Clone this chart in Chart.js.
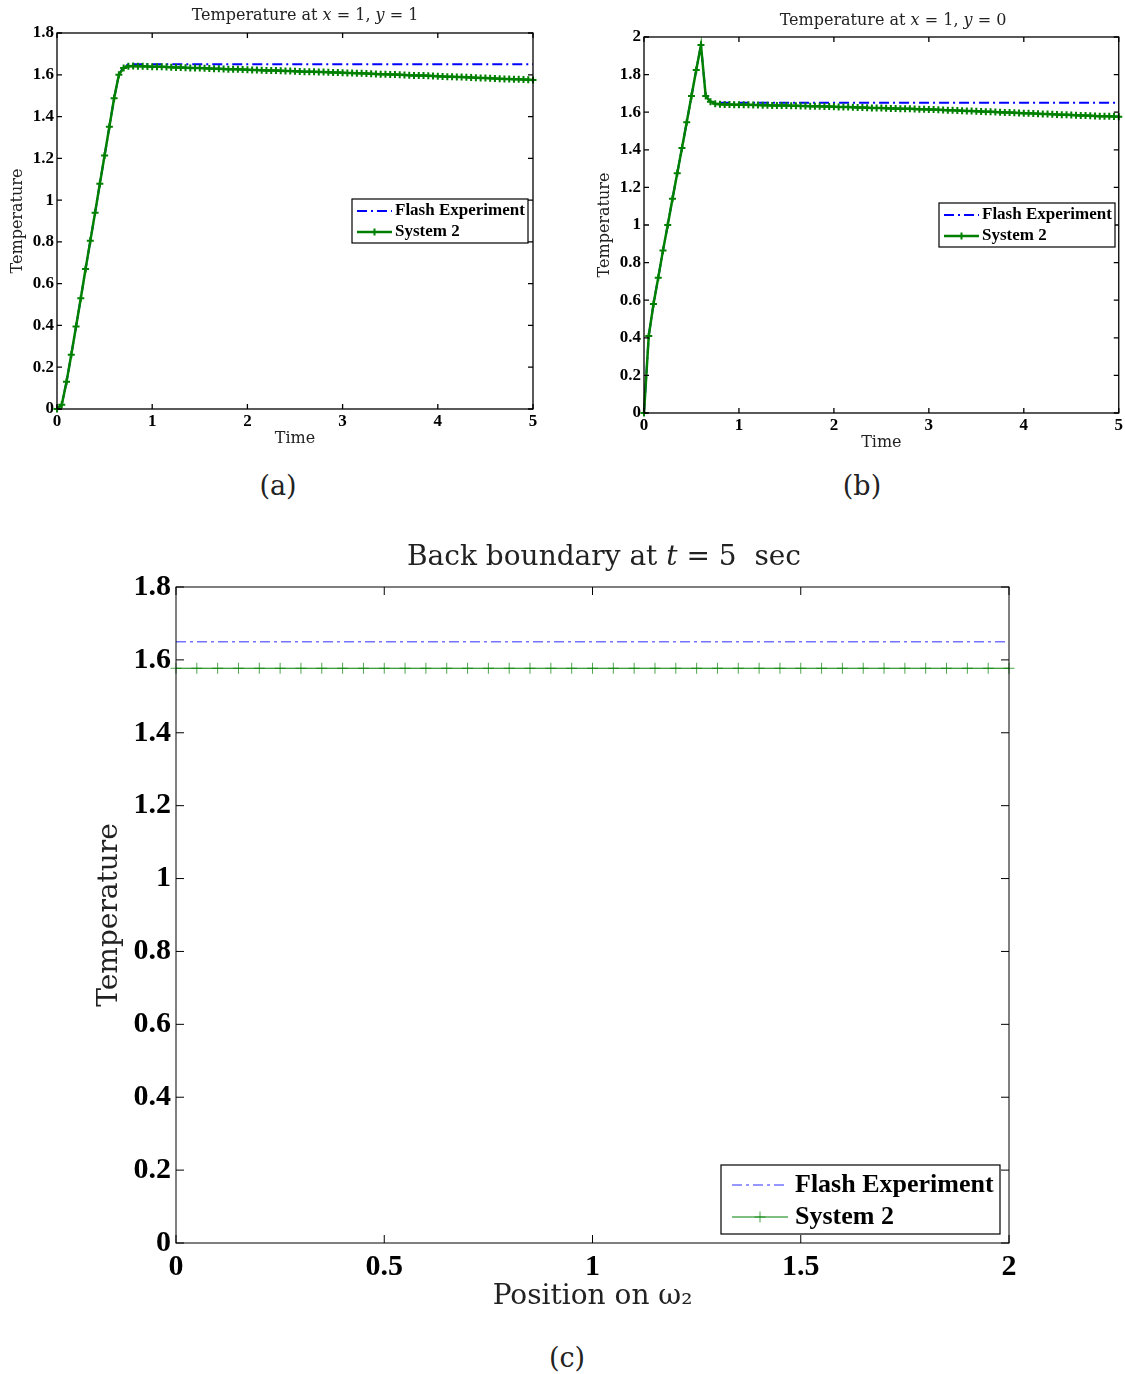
<!DOCTYPE html>
<html>
<head>
<meta charset="utf-8">
<script src="https://cdn.jsdelivr.net/npm/chart.js@4.4.1/dist/chart.umd.min.js"></script>
<style>
  body { margin: 0; background: #fff; }
  #page { position: relative; width: 1125px; height: 1374px; overflow: hidden; background: #fff; }
  canvas { position: absolute; }
  .lbl { position: absolute; transform: translate(-50%, -50%); white-space: nowrap; font-family: 'DejaVu Serif', serif; color: #222; }
</style>
</head>
<body>
<div id="page">
  <canvas id="chartA" width="560" height="460" style="left:0;top:0"></canvas>
  <canvas id="chartB" width="538" height="460" style="left:587px;top:0"></canvas>
  <canvas id="chartC" width="1125" height="800" style="left:0;top:530px"></canvas>

  <div class="lbl" style="left:305px;top:14px;font-size:16px">Temperature at <i>x</i> = 1, <i>y</i> = 1</div>
  <div class="lbl" style="left:893px;top:19px;font-size:16px">Temperature at <i>x</i> = 1, <i>y</i> = 0</div>
  <div class="lbl" style="left:604px;top:555px;font-size:28px">Back boundary at <i>t</i> = 5 &nbsp;sec</div>
  <div class="lbl" style="left:278px;top:485px;font-size:27px">(a)</div>
  <div class="lbl" style="left:862px;top:485px;font-size:27px">(b)</div>
  <div class="lbl" style="left:567px;top:1357px;font-size:27px">(c)</div>
</div>
<script>
// time grid of the simulations (sec)
const times = [
  0, 0.05, 0.1, 0.15, 0.2, 0.25, 0.3, 0.35, 0.4, 0.45,
  0.5, 0.55, 0.6, 0.65, 0.7, 0.75, 0.8, 0.85, 0.9, 0.95,
  1, 1.05, 1.1, 1.15, 1.2, 1.25, 1.3, 1.35, 1.4, 1.45,
  1.5, 1.55, 1.6, 1.65, 1.7, 1.75, 1.8, 1.85, 1.9, 1.95,
  2, 2.05, 2.1, 2.15, 2.2, 2.25, 2.3, 2.35, 2.4, 2.45,
  2.5, 2.55, 2.6, 2.65, 2.7, 2.75, 2.8, 2.85, 2.9, 2.95,
  3, 3.05, 3.1, 3.15, 3.2, 3.25, 3.3, 3.35, 3.4, 3.45,
  3.5, 3.55, 3.6, 3.65, 3.7, 3.75, 3.8, 3.85, 3.9, 3.95,
  4, 4.05, 4.1, 4.15, 4.2, 4.25, 4.3, 4.35, 4.4, 4.45,
  4.5, 4.55, 4.6, 4.65, 4.7, 4.75, 4.8, 4.85, 4.9, 4.95,
  5
];

// (a) x = 1, y = 1
const systemA = [
  0, 0.02, 0.13, 0.26, 0.395, 0.53, 0.67, 0.805, 0.94, 1.078,
  1.214, 1.351, 1.488, 1.6, 1.633, 1.641, 1.642, 1.641, 1.641, 1.64,
  1.639, 1.638, 1.638, 1.637, 1.636, 1.635, 1.635, 1.634, 1.633, 1.632,
  1.632, 1.631, 1.63, 1.629, 1.629, 1.628, 1.627, 1.626, 1.626, 1.625,
  1.624, 1.623, 1.623, 1.622, 1.621, 1.62, 1.62, 1.619, 1.618, 1.618,
  1.617, 1.616, 1.615, 1.615, 1.614, 1.613, 1.613, 1.612, 1.611, 1.611,
  1.61, 1.609, 1.608, 1.607, 1.607, 1.606, 1.605, 1.604, 1.603, 1.602,
  1.601, 1.601, 1.6, 1.599, 1.598, 1.597, 1.596, 1.596, 1.595, 1.594,
  1.593, 1.592, 1.591, 1.59, 1.589, 1.589, 1.588, 1.587, 1.586, 1.585,
  1.584, 1.583, 1.582, 1.581, 1.58, 1.58, 1.579, 1.578, 1.577, 1.576,
  1.575
];

// (b) x = 1, y = 0
const systemB = [
  0, 0.41, 0.58, 0.72, 0.865, 1.0, 1.14, 1.275, 1.41, 1.546,
  1.686, 1.824, 1.957, 1.686, 1.656, 1.645, 1.642, 1.641, 1.641, 1.64,
  1.64, 1.639, 1.639, 1.638, 1.638, 1.637, 1.637, 1.636, 1.636, 1.635,
  1.635, 1.634, 1.634, 1.633, 1.633, 1.632, 1.631, 1.631, 1.63, 1.63,
  1.629, 1.628, 1.628, 1.627, 1.626, 1.625, 1.625, 1.624, 1.623, 1.623,
  1.622, 1.621, 1.62, 1.62, 1.619, 1.618, 1.618, 1.617, 1.616, 1.616,
  1.615, 1.614, 1.613, 1.612, 1.611, 1.61, 1.609, 1.608, 1.607, 1.606,
  1.605, 1.604, 1.603, 1.602, 1.601, 1.6, 1.599, 1.598, 1.597, 1.596,
  1.595, 1.594, 1.593, 1.592, 1.591, 1.59, 1.589, 1.588, 1.587, 1.586,
  1.585, 1.584, 1.583, 1.582, 1.581, 1.58, 1.579, 1.578, 1.578, 1.577,
  1.576
];

// flash experiment curves (rise, then flat)
const flashTimes = [0, 0.05, 0.1, 0.15, 0.2, 0.25, 0.3, 0.35, 0.4, 0.45, 0.5, 0.55, 0.6, 0.65, 0.7, 0.75, 5];
const flashA = [0, 0.02, 0.13, 0.26, 0.395, 0.53, 0.67, 0.805, 0.94, 1.078, 1.214, 1.351, 1.488, 1.6, 1.64, 1.65, 1.65];
const flashB = [0, 0.41, 0.58, 0.72, 0.865, 1.0, 1.14, 1.275, 1.41, 1.546, 1.686, 1.824, 1.957, 1.686, 1.656, 1.65, 1.65];

// (c) back boundary at t = 5
const positions = [
  0, 0.05, 0.1, 0.15, 0.2, 0.25, 0.3, 0.35, 0.4, 0.45,
  0.5, 0.55, 0.6, 0.65, 0.7, 0.75, 0.8, 0.85, 0.9, 0.95,
  1, 1.05, 1.1, 1.15, 1.2, 1.25, 1.3, 1.35, 1.4, 1.45,
  1.5, 1.55, 1.6, 1.65, 1.7, 1.75, 1.8, 1.85, 1.9, 1.95,
  2
];
const systemC = [
  1.577, 1.577, 1.577, 1.577, 1.577, 1.577, 1.577, 1.577, 1.577, 1.577,
  1.577, 1.577, 1.577, 1.577, 1.577, 1.577, 1.577, 1.577, 1.577, 1.577,
  1.577, 1.577, 1.577, 1.577, 1.577, 1.577, 1.577, 1.577, 1.577, 1.577,
  1.577, 1.577, 1.577, 1.577, 1.577, 1.577, 1.577, 1.577, 1.577, 1.577,
  1.577
];
const flashPositions = [0, 2];
const flashC = [1.65, 1.65];

// tick labels
const timeTicks = [0, 1, 2, 3, 4, 5];
const tempTicks18 = [0, 0.2, 0.4, 0.6, 0.8, 1, 1.2, 1.4, 1.6, 1.8];
const tempTicks20 = [0, 0.2, 0.4, 0.6, 0.8, 1, 1.2, 1.4, 1.6, 1.8, 2];
const posTicks = [0, 0.5, 1, 1.5, 2];

const pts = (xs, ys) => xs.map((x, i) => ({ x: x, y: ys[i] }));
const fmt = v => String(+Number(v).toFixed(2));

// box around the plot with inward ticks on all four sides
const frame = {
  id: 'frame',
  afterDraw(chart, args, o) {
    const { ctx, chartArea: a, scales: { x, y } } = chart;
    ctx.save();
    ctx.strokeStyle = '#000';
    ctx.lineWidth = o.lineWidth;
    ctx.beginPath();
    x.ticks.forEach((t, i) => {
      const px = x.getPixelForTick(i);
      ctx.moveTo(px, a.bottom); ctx.lineTo(px, a.bottom - o.tick);
      ctx.moveTo(px, a.top); ctx.lineTo(px, a.top + o.tick);
    });
    y.ticks.forEach((t, i) => {
      const py = y.getPixelForTick(i);
      ctx.moveTo(a.left, py); ctx.lineTo(a.left + o.tick, py);
      ctx.moveTo(a.right, py); ctx.lineTo(a.right - o.tick, py);
    });
    ctx.stroke();
    ctx.strokeRect(a.left, a.top, a.right - a.left, a.bottom - a.top);
    ctx.restore();
  }
};

// legend drawn inside the axes, matlab style
const boxLegend = {
  id: 'boxLegend',
  afterDraw(chart, args, o) {
    const ctx = chart.ctx;
    const [bx, by, bw, bh] = o.box;
    ctx.save();
    ctx.fillStyle = '#fff';
    ctx.fillRect(bx, by, bw, bh);
    ctx.strokeStyle = '#000';
    ctx.lineWidth = o.lineWidth;
    ctx.strokeRect(bx, by, bw, bh);
    ctx.font = o.font;
    ctx.textBaseline = 'middle';
    chart.data.datasets.forEach((ds, i) => {
      const yy = o.rows[i];
      ctx.strokeStyle = ds.borderColor;
      ctx.lineWidth = ds.borderWidth;
      ctx.setLineDash(ds.borderDash || []);
      ctx.beginPath();
      ctx.moveTo(o.sample[0], yy); ctx.lineTo(o.sample[1], yy);
      ctx.stroke();
      ctx.setLineDash([]);
      if (ds.pointRadius) {
        const cx = (o.sample[0] + o.sample[1]) / 2, r = ds.pointRadius;
        ctx.strokeStyle = ds.pointBorderColor;
        ctx.lineWidth = ds.pointBorderWidth;
        ctx.beginPath();
        ctx.moveTo(cx - r, yy); ctx.lineTo(cx + r, yy);
        ctx.moveTo(cx, yy - r); ctx.lineTo(cx, yy + r);
        ctx.stroke();
      }
      ctx.fillStyle = '#000';
      ctx.fillText(ds.label, o.textX, yy);
    });
    ctx.restore();
  }
};

function makeChart(id, c) {
  const tickFont = { family: 'Liberation Serif', size: c.tickSize, weight: 'bold' };
  const titleFont = { family: 'DejaVu Serif', size: c.titleSize };
  return new Chart(document.getElementById(id), {
    type: 'line',
    data: { datasets: c.datasets },
    options: {
      responsive: false,
      animation: false,
      layout: { padding: c.padding },
      plugins: {
        legend: { display: false },
        tooltip: { enabled: false },
        frame: c.frame,
        boxLegend: c.legend
      },
      scales: {
        x: {
          type: 'linear', min: c.xTicks[0], max: c.xTicks[c.xTicks.length - 1],
          afterBuildTicks: s => { s.ticks = c.xTicks.map(v => ({ value: v })); },
          afterFit: s => { s.height = c.xHeight; },
          grid: { display: false, drawTicks: false },
          border: { display: false },
          ticks: { padding: c.xPad, color: '#000', font: tickFont, maxRotation: 0, autoSkip: false, callback: fmt },
          title: { display: true, text: c.xTitle, color: '#222', font: titleFont, padding: { top: 0, bottom: c.xTitlePad } }
        },
        y: {
          min: c.yTicks[0], max: c.yTicks[c.yTicks.length - 1],
          afterBuildTicks: s => { s.ticks = c.yTicks.map(v => ({ value: v })); },
          afterFit: s => { s.width = c.yWidth; },
          grid: { display: false, drawTicks: false },
          border: { display: false },
          ticks: { padding: c.yPad, color: '#000', font: tickFont, autoSkip: false, callback: fmt },
          title: { display: true, text: 'Temperature', color: '#222', font: titleFont, padding: { top: c.yTitlePad, bottom: 0 } }
        }
      }
    },
    plugins: [frame, boxLegend]
  });
}

function timeDatasets(flash, system) {
  return [
    { label: 'Flash Experiment', data: pts(flashTimes, flash), borderColor: '#0000ff', borderWidth: 2,
      borderDash: [10, 4, 2, 4], pointRadius: 0, order: 1, clip: false },
    { label: 'System 2', data: pts(times, system), borderColor: '#008000', borderWidth: 2.5,
      pointStyle: 'cross', pointRadius: 3.5, pointBorderWidth: 2, pointBorderColor: '#008000', order: 0, clip: false }
  ];
}

makeChart('chartA', {
  datasets: timeDatasets(flashA, systemA),
  padding: { left: 0, top: 33, right: 27, bottom: 0 },
  xTicks: timeTicks, yTicks: tempTicks18,
  xHeight: 51, yWidth: 57, xPad: 2, yPad: 3,
  tickSize: 17, titleSize: 16, xTitle: 'Time', xTitlePad: 12, yTitlePad: 8,
  frame: { lineWidth: 1.3, tick: 5 },
  legend: { box: [352, 199, 176, 44], rows: [211, 232], sample: [357, 392], textX: 395, lineWidth: 1.2,
            font: 'bold 17px "Liberation Serif"' }
});

makeChart('chartB', {
  datasets: timeDatasets(flashB, systemB),
  padding: { left: 0, top: 37, right: 5, bottom: 0 },
  xTicks: timeTicks, yTicks: tempTicks20,
  xHeight: 47, yWidth: 57, xPad: 2, yPad: 3,
  tickSize: 17, titleSize: 16, xTitle: 'Time', xTitlePad: 8, yTitlePad: 8,
  frame: { lineWidth: 1.3, tick: 5 },
  legend: { box: [352, 203, 176, 44], rows: [215, 236], sample: [357, 392], textX: 395, lineWidth: 1.2,
            font: 'bold 17px "Liberation Serif"' }
});

makeChart('chartC', {
  datasets: [
    { label: 'Flash Experiment', data: pts(flashPositions, flashC), borderColor: 'rgba(0,0,255,0.55)', borderWidth: 1.5,
      borderDash: [10, 4, 3, 4], pointRadius: 0, order: 1, clip: false },
    { label: 'System 2', data: pts(positions, systemC), borderColor: '#008000', borderWidth: 1.2,
      pointStyle: 'cross', pointRadius: 5.5, pointBorderWidth: 1, pointBorderColor: 'rgba(0,128,0,0.7)', order: 0, clip: false }
  ],
  padding: { left: 0, top: 57, right: 116, bottom: 0 },
  xTicks: posTicks, yTicks: tempTicks18,
  xHeight: 87, yWidth: 176, xPad: 6, yPad: 5,
  tickSize: 30, titleSize: 28, xTitle: 'Position on ω₂', xTitlePad: 16, yTitlePad: 93,
  frame: { lineWidth: 1, tick: 8 },
  legend: { box: [721, 635, 279, 69], rows: [655, 687], sample: [732, 788], textX: 795, lineWidth: 1.2,
            font: 'bold 26px "Liberation Serif"' }
});
</script>
</body>
</html>
